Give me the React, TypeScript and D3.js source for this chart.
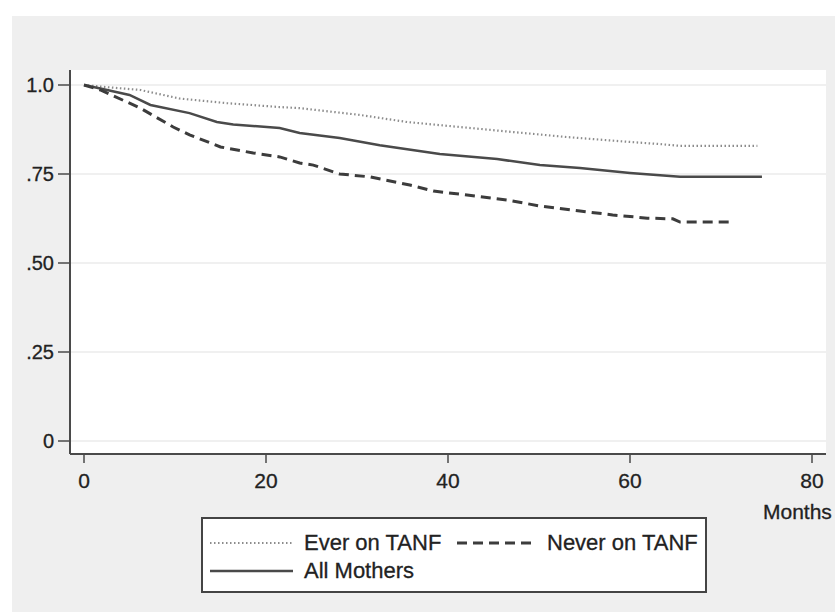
import React, { useEffect, useRef } from "react";
import * as d3 from "d3";

// Months since start, survival proportion
const everMonths = [0, 2.5, 6.2, 10.5, 15.7, 21.5, 23.7, 30.3, 35.5, 41.3, 47.1, 53, 54.5, 60, 63.3, 65.5, 74];
const everValues = [1.0, 0.994, 0.986, 0.962, 0.949, 0.938, 0.935, 0.916, 0.896, 0.882, 0.868, 0.854, 0.851, 0.84, 0.834, 0.829, 0.829];

const neverMonths = [0, 1.8, 6.2, 9.8, 11.6, 15, 18.6, 21.5, 23.7, 25.2, 28.1, 31.4, 35.8, 38.4, 42.1, 46.5, 50.1, 54.5, 58.1, 61.9, 64.7, 65.5, 71.3];
const neverValues = [1.0, 0.986, 0.935, 0.882, 0.86, 0.826, 0.809, 0.798, 0.781, 0.775, 0.75, 0.742, 0.719, 0.702, 0.691, 0.677, 0.66, 0.646, 0.635, 0.626, 0.624, 0.615, 0.615];

const allMonths = [0, 1.8, 5, 7.3, 11.6, 14.6, 16.4, 21.5, 23.7, 28.1, 32.5, 39.1, 45.4, 50.1, 54.5, 60, 65.5, 74.5];
const allValues = [1.0, 0.99, 0.972, 0.944, 0.921, 0.896, 0.889, 0.879, 0.865, 0.851, 0.831, 0.806, 0.792, 0.775, 0.767, 0.753, 0.742, 0.742];

const xTicks = [0, 20, 40, 60, 80];
const yTicks = [0, 0.25, 0.5, 0.75, 1.0];
const yTickLabels = ["0", ".25", ".50", ".75", "1.0"];

const FONT = "'Liberation Sans', Arial, Helvetica, sans-serif";

const App = () => {
  const ref = useRef<HTMLDivElement>(null);

  useEffect(() => {
    document.body.style.margin = "0";
    d3.select(ref.current).selectAll("*").remove();

    const width = 835;
    const height = 612;

    const svg = d3
      .select(ref.current)
      .append("svg")
      .attr("width", width)
      .attr("height", height)
      .style("display", "block")
      .style("font-family", FONT);

    // outer background
    svg.append("rect").attr("width", width).attr("height", height).attr("fill", "#ffffff");
    svg
      .append("rect")
      .attr("x", 12)
      .attr("y", 16)
      .attr("width", width - 12)
      .attr("height", height - 16)
      .attr("fill", "#efefef");

    // plot region
    const plot = { left: 70, right: 826, top: 70, bottom: 454 };
    svg
      .append("rect")
      .attr("x", plot.left)
      .attr("y", plot.top)
      .attr("width", plot.right - plot.left)
      .attr("height", plot.bottom - plot.top)
      .attr("fill", "#ffffff");

    const x = d3.scaleLinear().domain([0, 80]).range([84, 812]);
    const y = d3.scaleLinear().domain([0, 1]).range([441, 85]);

    // grid lines
    svg
      .selectAll("line.grid")
      .data(yTicks)
      .enter()
      .append("line")
      .attr("class", "grid")
      .attr("x1", plot.left)
      .attr("x2", plot.right)
      .attr("y1", (d) => y(d))
      .attr("y2", (d) => y(d))
      .attr("stroke", "#ebebeb")
      .attr("stroke-width", 1.5);

    const axisColor = "#4a4a4a";
    const textColor = "#222222";

    // y axis
    svg
      .append("line")
      .attr("x1", plot.left)
      .attr("x2", plot.left)
      .attr("y1", plot.top)
      .attr("y2", plot.bottom)
      .attr("stroke", axisColor)
      .attr("stroke-width", 2);
    yTicks.forEach((t, i) => {
      svg
        .append("line")
        .attr("x1", 58)
        .attr("x2", plot.left)
        .attr("y1", y(t))
        .attr("y2", y(t))
        .attr("stroke", axisColor)
        .attr("stroke-width", 1.5);
      svg
        .append("text")
        .attr("x", 54)
        .attr("y", y(t))
        .attr("dy", "0.36em")
        .attr("text-anchor", "end")
        .attr("font-size", 20)
        .attr("fill", textColor)
        .attr("stroke", textColor)
        .attr("stroke-width", 0.3)
        .text(yTickLabels[i]);
    });

    // x axis
    svg
      .append("line")
      .attr("x1", plot.left)
      .attr("x2", plot.right)
      .attr("y1", plot.bottom)
      .attr("y2", plot.bottom)
      .attr("stroke", axisColor)
      .attr("stroke-width", 2);
    xTicks.forEach((t) => {
      svg
        .append("line")
        .attr("x1", x(t))
        .attr("x2", x(t))
        .attr("y1", plot.bottom)
        .attr("y2", plot.bottom + 9)
        .attr("stroke", axisColor)
        .attr("stroke-width", 1.5);
      svg
        .append("text")
        .attr("x", x(t))
        .attr("y", 488)
        .attr("text-anchor", "middle")
        .attr("font-size", 21)
        .attr("fill", textColor)
        .attr("stroke", textColor)
        .attr("stroke-width", 0.3)
        .text(t);
    });
    svg
      .append("text")
      .attr("x", 763)
      .attr("y", 519)
      .attr("font-size", 21)
      .attr("fill", textColor)
      .attr("stroke", textColor)
      .attr("stroke-width", 0.3)
      .text("Months");

    // survival curves
    const line = d3
      .line<[number, number]>()
      .x((d) => x(d[0]))
      .y((d) => y(d[1]));

    const series = [
      { months: everMonths, values: everValues, color: "#8c8c8c", width: 2.2, dash: "1.5 2.5" },
      { months: allMonths, values: allValues, color: "#4a4a4a", width: 2.5, dash: null },
      { months: neverMonths, values: neverValues, color: "#3c3c3c", width: 3, dash: "10 6" },
    ];

    series.forEach((s) => {
      const pts = s.months.map((m, i) => [m, s.values[i]] as [number, number]);
      svg
        .append("path")
        .attr("d", line(pts))
        .attr("fill", "none")
        .attr("stroke", s.color)
        .attr("stroke-width", s.width)
        .attr("stroke-dasharray", s.dash);
    });

    // legend
    const lg = svg.append("g");
    lg.append("rect")
      .attr("x", 202)
      .attr("y", 518)
      .attr("width", 504)
      .attr("height", 74)
      .attr("fill", "#ffffff")
      .attr("stroke", "#444")
      .attr("stroke-width", 2);

    const legendItems = [
      { label: "Ever on TANF", s: series[0], x1: 210, x2: 293, tx: 304, row: 0 },
      { label: "Never on TANF", s: series[2], x1: 457, x2: 537, tx: 547, row: 0 },
      { label: "All Mothers", s: series[1], x1: 210, x2: 293, tx: 304, row: 1 },
    ];
    legendItems.forEach((it) => {
      const cy = 543 + it.row * 28;
      lg.append("line")
        .attr("x1", it.x1)
        .attr("x2", it.x2)
        .attr("y1", cy)
        .attr("y2", cy)
        .attr("stroke", it.s.color)
        .attr("stroke-width", it.s.width)
        .attr("stroke-dasharray", it.s.dash);
      lg.append("text")
        .attr("x", it.tx)
        .attr("y", cy + 7)
        .attr("font-size", 22)
        .attr("fill", textColor)
        .attr("stroke", textColor)
        .attr("stroke-width", 0.3)
        .text(it.label);
    });
  }, []);

  return <div ref={ref}></div>;
};

export default App;
